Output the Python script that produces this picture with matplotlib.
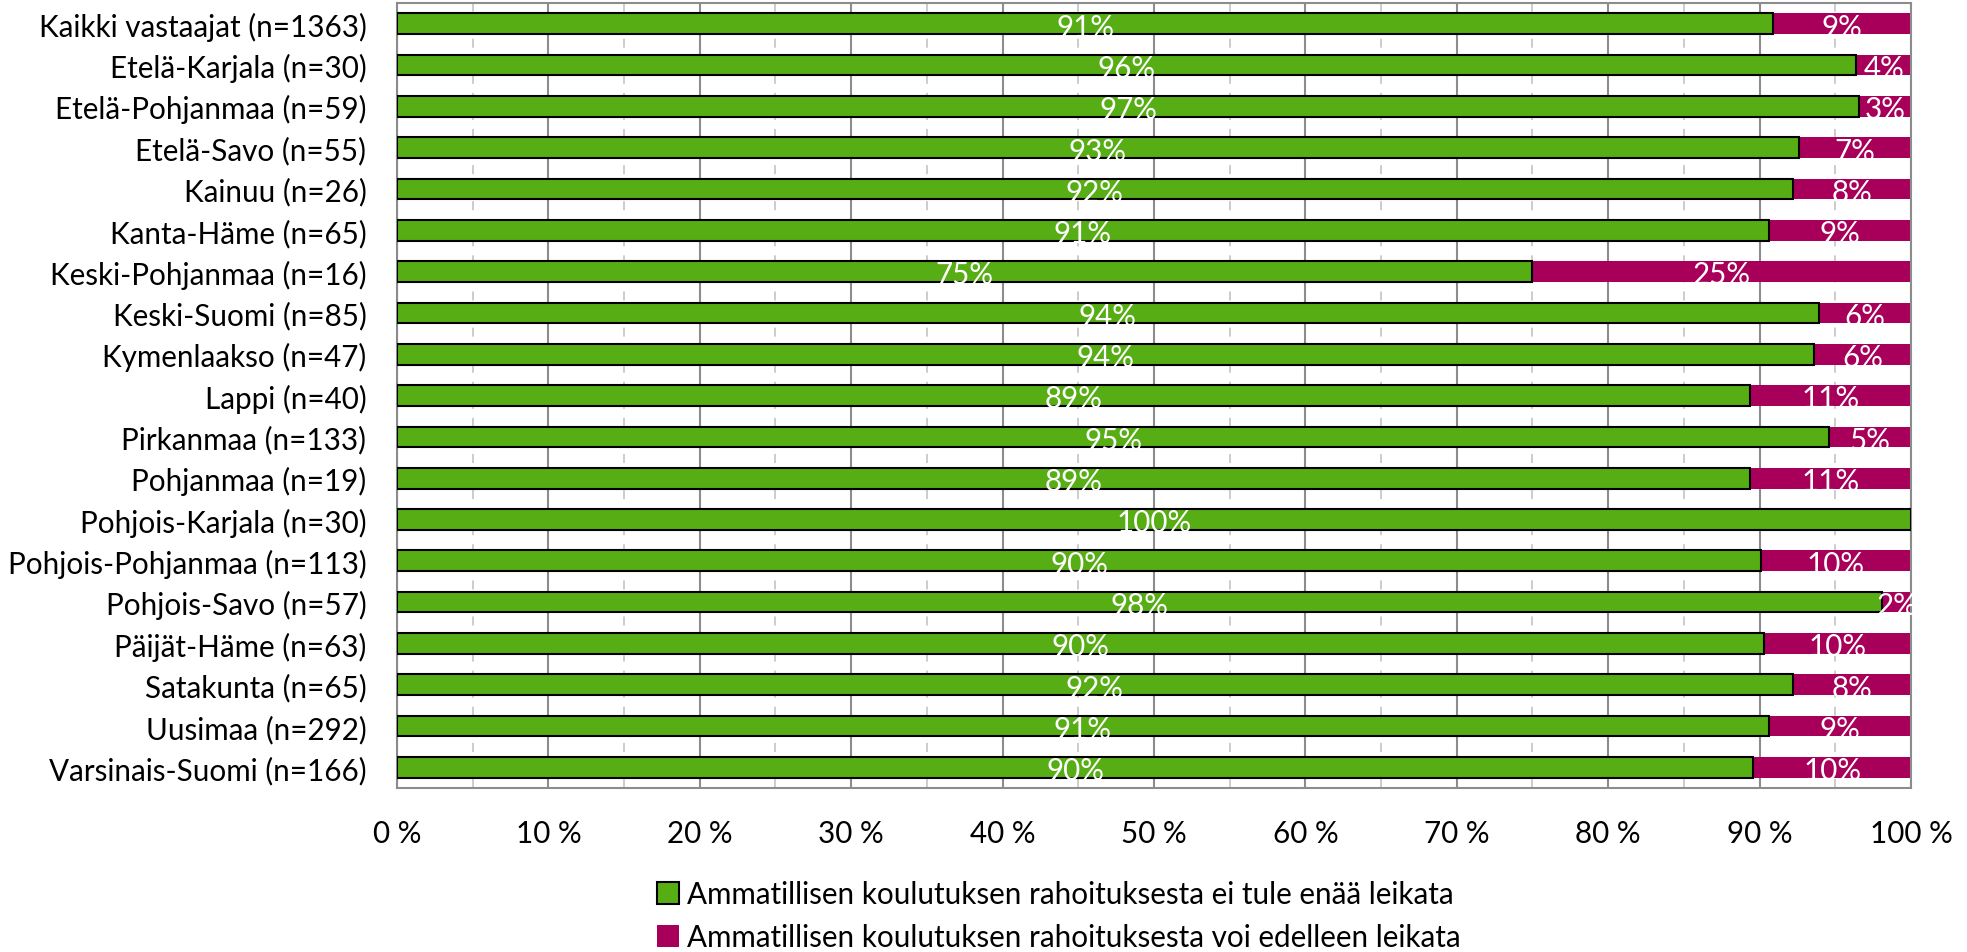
import matplotlib
matplotlib.use("Agg")
import matplotlib.pyplot as plt
from matplotlib.patches import Patch
from matplotlib.ticker import MultipleLocator, FuncFormatter

plt.rcParams['font.family'] = ['Lato', 'DejaVu Sans']

categories = [
    "Kaikki vastaajat (n=1363)", "Etelä-Karjala (n=30)", "Etelä-Pohjanmaa (n=59)",
    "Etelä-Savo (n=55)", "Kainuu (n=26)", "Kanta-Häme (n=65)", "Keski-Pohjanmaa (n=16)",
    "Keski-Suomi (n=85)", "Kymenlaakso (n=47)", "Lappi (n=40)", "Pirkanmaa (n=133)",
    "Pohjanmaa (n=19)", "Pohjois-Karjala (n=30)", "Pohjois-Pohjanmaa (n=113)",
    "Pohjois-Savo (n=57)", "Päijät-Häme (n=63)", "Satakunta (n=65)", "Uusimaa (n=292)",
    "Varsinais-Suomi (n=166)",
]
ei_leikata = [90.9, 96.4, 96.6, 92.6, 92.2, 90.6, 75.0, 93.9, 93.6, 89.4, 94.6,
              89.4, 100.0, 90.1, 98.1, 90.3, 92.2, 90.6, 89.6]
voi_leikata = [100 - v for v in ei_leikata]
series_names = ["Ammatillisen koulutuksen rahoituksesta ei tule enää leikata",
                "Ammatillisen koulutuksen rahoituksesta voi edelleen leikata"]
green = "#56AD14"
magenta = "#A8005A"

fig = plt.figure(figsize=(19.67, 9.53), dpi=100)
ax = fig.add_axes([0.2018, 0.172, 0.7697, 0.8238])

y = list(range(len(categories)))
ax.barh(y, ei_leikata, height=0.5, color=green, edgecolor="black", linewidth=1.5, zorder=3)
ax.barh(y, voi_leikata, left=ei_leikata, height=0.5, color=magenta, linewidth=0, zorder=2)

fs = 21.3
for i, (g, m) in enumerate(zip(ei_leikata, voi_leikata)):
    if g > 0:
        ax.text(g / 2, i + 0.07, f"{round(g)}%", ha="center", va="center",
                color="white", fontsize=fs, zorder=5)
    if m > 0.5:
        ax.text(g + m / 2, i + 0.07, f"{round(m)}%", ha="center", va="center",
                color="white", fontsize=fs, zorder=5, clip_on=False)

ax.set_xlim(0, 100)
ax.set_ylim(len(categories) - 0.5, -0.5)
ax.set_yticks(y)
ax.set_yticklabels(categories, fontsize=fs)
ax.xaxis.set_major_locator(MultipleLocator(10))
ax.xaxis.set_minor_locator(MultipleLocator(5))
ax.xaxis.set_major_formatter(FuncFormatter(lambda v, p: f"{int(v)} %"))
ax.tick_params(axis="x", which="both", length=0, labelsize=fs, pad=22)
ax.tick_params(axis="y", length=0, pad=22)
ax.grid(axis="x", which="major", color="#8c8c8c", linewidth=1.5, zorder=0)
ax.grid(axis="x", which="minor", color="#c8c8c8", linewidth=1.3, linestyle=(0, (5, 5)), zorder=0)
ax.set_axisbelow(True)
for s in ax.spines.values():
    s.set_color("#8c8c8c")
    s.set_linewidth(1.5)

handles = [Patch(facecolor=green, edgecolor="black", linewidth=1.5),
           Patch(facecolor=magenta, edgecolor=magenta, linewidth=0)]
fig.legend(handles, series_names, loc="center left", bbox_to_anchor=(0.334, 0.038),
           bbox_transform=fig.transFigure, frameon=False, fontsize=fs,
           handlelength=0.75, handleheight=0.75, handletextpad=0.25, labelspacing=0.5,
           borderaxespad=0, borderpad=0)

fig.savefig("out.png", dpi=100)
